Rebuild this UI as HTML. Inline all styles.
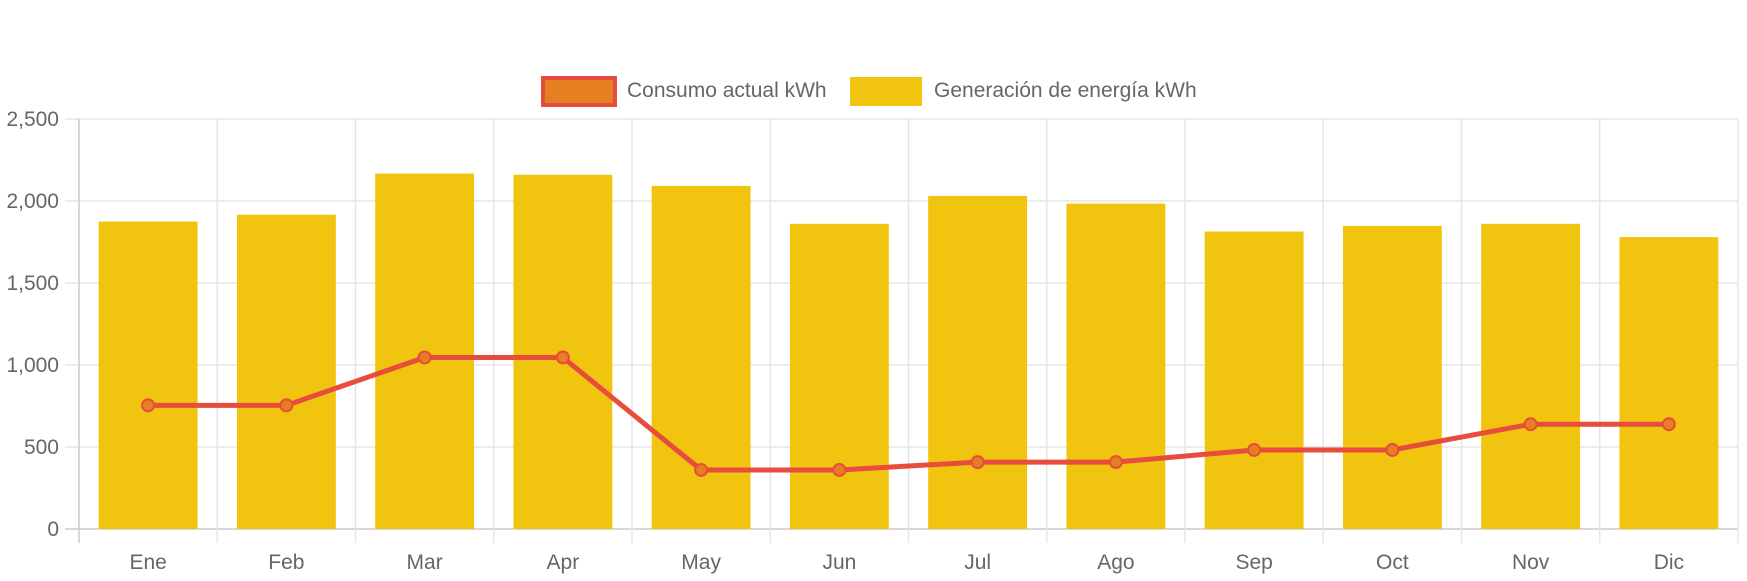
<!DOCTYPE html>
<html><head><meta charset="utf-8"><style>
body{margin:0;background:#fff;}
svg{display:block;font-family:"Liberation Sans",sans-serif;}
</style></head><body>
<svg id="chart" width="1747" height="581">
<g id="legend">
 <g>
  <rect x="543" y="78" width="72" height="27" fill="#e67e22" stroke="#e74c3c" stroke-width="4"/>
  <text x="627" y="97" font-size="21" fill="#666">Consumo actual kWh</text>
 </g>
 <g>
  <rect x="850" y="77" width="72" height="29" fill="#f1c40f"/>
  <text x="934" y="97" font-size="21" fill="#666">Generación de energía kWh</text>
 </g>
</g>
<g id="grid"></g>
<g id="bars"></g>
<g id="line"></g>
</svg>
<script>
const categories=["Ene","Feb","Mar","Apr","May","Jun","Jul","Ago","Sep","Oct","Nov","Dic"];
const generacion=[1875,1916,2167,2160,2092,1861,2031,1984,1814,1848,1861,1780];
const consumo=[754,754,1046,1046,360,360,408,408,482,482,639,639];
const yTicks=[0,500,1000,1500,2000,2500];
const yTickLabels=["0","500","1,000","1,500","2,000","2,500"];
const NS="http://www.w3.org/2000/svg";
const L=79,R=1738,T=119,B=529,yMax=2500;
const cw=(R-L)/categories.length;
const y=v=>B-(v/yMax)*(B-T);
const xc=i=>L+cw*(i+0.5);
function mk(tag,attrs,parent){const e=document.createElementNS(NS,tag);for(const k in attrs)e.setAttribute(k,attrs[k]);parent.appendChild(e);return e;}
const grid=document.getElementById('grid');
yTicks.forEach((t,i)=>{
 const ln=mk('line',{x1:65,x2:R,y1:y(t),y2:y(t),stroke:i===0?'#ccc':'#e5e5e5','stroke-width':1.5},grid);
 
 
 const tx=mk('text',{x:59,y:y(t)+7,'text-anchor':'end','font-size':21,fill:'#666'},grid);
 tx.textContent=yTickLabels[i];
 
 
});
for(let i=0;i<=categories.length;i++){
 const x=L+cw*i;
 const ln=mk('line',{x1:x,x2:x,y1:T,y2:543,stroke:i===0?'#ccc':'#e5e5e5','stroke-width':1.5},grid);
 
 
}
categories.forEach((c,i)=>{
 const tx=mk('text',{x:xc(i),y:569,'text-anchor':'middle','font-size':21,fill:'#666'},grid);
 tx.textContent=c;
 
 
});
const bars=document.getElementById('bars');
const bw=cw*0.715;
generacion.forEach((v,i)=>{
 const r=mk('rect',{x:xc(i)-bw/2,y:y(v),width:bw,height:B-y(v),fill:'#f1c40f'},bars);
 
 
});
const lg=document.getElementById('line');
const p=mk('polyline',{points:consumo.map((v,i)=>xc(i)+','+y(v)).join(' '),fill:'none',stroke:'#e74c3c','stroke-width':5,'stroke-linejoin':'round'},lg);


consumo.forEach((v,i)=>{
 const c=mk('circle',{cx:xc(i),cy:y(v),r:6,fill:'#e67e22',stroke:'#e74c3c','stroke-width':2},lg);
 
 
});
</script>
</body></html>
